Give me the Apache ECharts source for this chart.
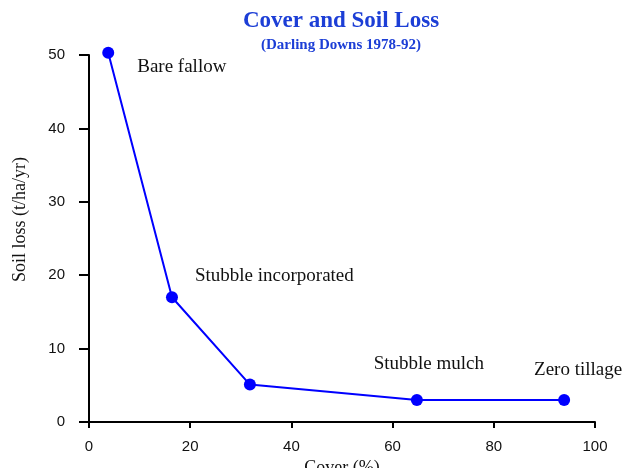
<!DOCTYPE html>
<html>
<head>
<meta charset="utf-8">
<script src="https://cdn.jsdelivr.net/npm/echarts@6/dist/echarts.min.js"></script>
<style>html,body{margin:0;padding:0;background:#fff;}#chart{width:623px;height:468px;}</style>
</head>
<body>
<div id="chart"></div>
<script>
const cover = [3.8, 16.4, 31.8, 64.8, 93.9];
const soilLoss = [50.3, 17.0, 5.1, 3.0, 3.0];
const practices = ['Bare fallow', 'Stubble incorporated', '', 'Stubble mulch', 'Zero tillage'];
const xTicks = [0, 20, 40, 60, 80, 100];
const yTicks = [0, 10, 20, 30, 40, 50];

const labelStyles = [
  { align: 'left', offset: [29, 14] },
  { align: 'left', offset: [23, -21] },
  null,
  { align: 'center', offset: [12, -36] },
  { align: 'center', offset: [14, -30] }
];

const serif = '"Liberation Serif", "Times New Roman", serif';
const sans = '"Liberation Sans", Arial, sans-serif';
const blue = '#0000ff';
const titleBlue = '#1c3ed6';

const data = cover.map((c, i) => {
  const d = { value: [c, soilLoss[i]], name: practices[i] };
  const ls = labelStyles[i];
  if (ls) {
    d.label = {
      show: true, position: 'inside', align: ls.align, verticalAlign: 'middle',
      offset: ls.offset, formatter: practices[i],
      color: '#111', fontFamily: serif, fontSize: 19
    };
  }
  return d;
});

const chart = echarts.init(document.getElementById('chart'), null, { renderer: 'canvas' });
chart.setOption({
  animation: false,
  backgroundColor: '#ffffff',
  title: {
    text: 'Cover and Soil Loss',
    subtext: '(Darling Downs 1978-92)',
    left: 336, top: 5, textAlign: 'center', itemGap: 5,
    textStyle: { fontFamily: serif, fontWeight: 'bold', fontSize: 23, color: titleBlue },
    subtextStyle: { fontFamily: serif, fontWeight: 'bold', fontSize: 15, color: titleBlue }
  },
  grid: { left: 89, right: 28, top: 55, bottom: 46, containLabel: false, outerBoundsMode: 'none' },
  xAxis: {
    type: 'value', min: xTicks[0], max: xTicks[xTicks.length - 1], interval: 20,
    name: 'Cover (%)', nameLocation: 'middle', nameGap: 28,
    nameTextStyle: { fontFamily: serif, fontSize: 18, color: '#111' },
    axisLine: { show: true, lineStyle: { color: '#000', width: 2 } },
    axisTick: { show: true, inside: false, length: 6, lineStyle: { color: '#000', width: 2 } },
    axisLabel: { margin: 17, fontFamily: sans, fontSize: 15, color: '#111' },
    splitLine: { show: false }
  },
  yAxis: {
    type: 'value', min: yTicks[0], max: yTicks[yTicks.length - 1], interval: 10,
    name: 'Soil loss (t/ha/yr)', nameLocation: 'middle', nameGap: 60,
    nameTextStyle: { fontFamily: serif, fontSize: 18, color: '#111', padding: [0, 0, 0, 38] },
    axisLine: { show: true, lineStyle: { color: '#000', width: 2 } },
    axisTick: { show: true, inside: false, length: 10, lineStyle: { color: '#000', width: 2 } },
    axisLabel: { margin: 24, fontFamily: sans, fontSize: 15, color: '#111' },
    splitLine: { show: false }
  },
  series: [{
    type: 'line',
    data: data,
    clip: false,
    symbol: 'circle',
    symbolSize: 12,
    showAllSymbol: true,
    lineStyle: { color: blue, width: 2 },
    itemStyle: { color: blue },
    label: { show: false }
  }]
});
</script>
</body>
</html>
